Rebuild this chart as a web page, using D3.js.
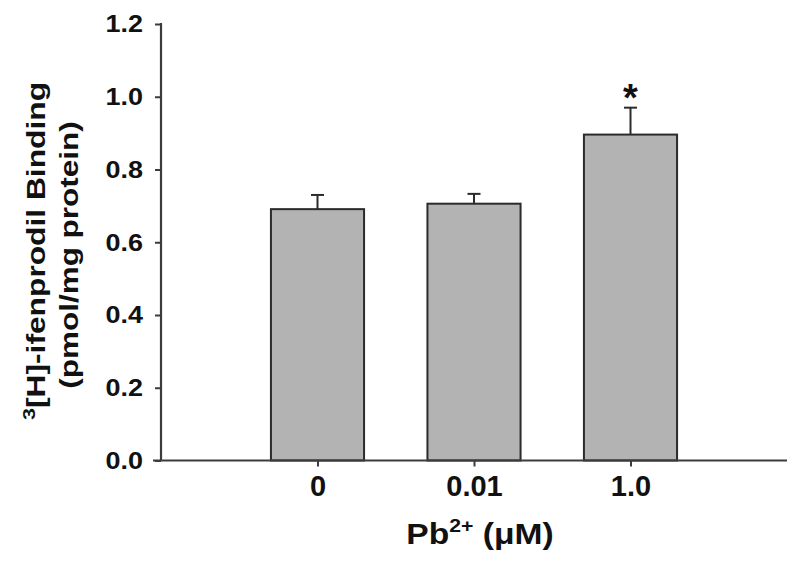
<!DOCTYPE html>
<html>
<head>
<meta charset="utf-8">
<script src="https://cdn.jsdelivr.net/npm/d3@7"></script>
<style>
  body { margin: 0; background: #fff; }
  text { font-family: "Liberation Sans", Arial, Helvetica, sans-serif; font-weight: bold; fill: #111; }
</style>
</head>
<body>
<div id="chart-area"></div>
<script>
// data
var categories = ["0", "0.01", "1.0"];
var means = [0.691, 0.706, 0.896];
var sems = [0.039, 0.027, 0.074];
var stars = ["", "", "*"];
var yTicks = [0.0, 0.2, 0.4, 0.6, 0.8, 1.0, 1.2];

var W = 800, H = 563;
var axisColor = "#3c3c3c";

var svg = d3.select("#chart-area").append("svg")
    .attr("width", W)
    .attr("height", H);

// scales: bars sit at slots 1..3 of a 0..4 axis
var x = d3.scaleLinear().domain([0, categories.length + 1]).range([161, 787]);
var y = d3.scaleLinear().domain([0, 1.2]).range([460.5, 24]);
var barW = (x(1) - x(0)) * 0.595;

// bars
svg.selectAll(".bar")
    .data(means)
    .enter().append("rect")
    .attr("class", "bar")
    .attr("x", function (d, i) { return x(i + 1) - barW / 2; })
    .attr("y", function (d) { return y(d); })
    .attr("width", barW)
    .attr("height", function (d) { return y(0) - y(d); })
    .style("fill", "#b3b3b3")
    .style("stroke", "#2b2b2b")
    .style("stroke-width", 2);

// upper error bars
var err = svg.selectAll(".err")
    .data(means)
    .enter().append("g")
    .attr("class", "err");

err.append("line")
    .attr("x1", function (d, i) { return x(i + 1); })
    .attr("x2", function (d, i) { return x(i + 1); })
    .attr("y1", function (d) { return y(d); })
    .attr("y2", function (d, i) { return y(d + sems[i]); })
    .style("stroke", "#2b2b2b")
    .style("stroke-width", 2);

err.append("line")
    .attr("x1", function (d, i) { return x(i + 1) - 6.5; })
    .attr("x2", function (d, i) { return x(i + 1) + 6.5; })
    .attr("y1", function (d, i) { return y(d + sems[i]); })
    .attr("y2", function (d, i) { return y(d + sems[i]); })
    .style("stroke", "#2b2b2b")
    .style("stroke-width", 2);

// significance star
svg.selectAll(".star")
    .data(means)
    .enter().append("text")
    .attr("class", "star")
    .attr("x", function (d, i) { return x(i + 1); })
    .attr("y", function (d, i) { return y(d + sems[i]) + 3; })
    .attr("text-anchor", "middle")
    .style("font-size", "38px")
    .text(function (d, i) { return stars[i]; });

// y axis
var yAxis = d3.axisLeft(y)
    .tickValues(yTicks)
    .tickFormat(d3.format(".1f"))
    .tickSize(6)
    .tickSizeOuter(0);

var gy = svg.append("g")
    .attr("class", "y axis")
    .attr("transform", "translate(" + x(0) + ",0)")
    .call(yAxis);

gy.select(".domain").remove();
gy.selectAll(".tick line").style("stroke", axisColor).style("stroke-width", 2);
gy.selectAll(".tick text")
    .attr("x", 0)
    .attr("transform", "translate(-18,0) scale(1.1,1)")
    .style("font-size", "24.5px")
    .style("fill", "#111");

// x axis
var xAxis = d3.axisBottom(x)
    .tickValues(d3.range(1, categories.length + 1))
    .tickFormat(function (d) { return categories[d - 1]; })
    .tickSize(6)
    .tickSizeOuter(0)
    .tickPadding(9);

var gx = svg.append("g")
    .attr("class", "x axis")
    .attr("transform", "translate(0," + y(0) + ")")
    .call(xAxis);

gx.select(".domain").remove();
gx.selectAll(".tick line").style("stroke", axisColor).style("stroke-width", 2);
gx.selectAll(".tick text")
    .style("font-size", "29px")
    .style("fill", "#111");

// axis lines
svg.append("line")
    .attr("x1", x(0)).attr("x2", x(0))
    .attr("y1", y(1.2) - 1).attr("y2", y(0))
    .style("stroke", axisColor).style("stroke-width", 2.2);

svg.append("line")
    .attr("x1", x(0) - 8).attr("x2", x(categories.length + 1))
    .attr("y1", y(0)).attr("y2", y(0))
    .style("stroke", axisColor).style("stroke-width", 2.2);

// y label, two lines
var yl1 = svg.append("text")
    .attr("text-anchor", "middle")
    .attr("transform", "translate(45,251) rotate(-90) scale(1.27,1)")
    .style("font-size", "25px");
yl1.append("tspan").text("3").style("font-size", "17px").attr("dy", -10);
yl1.append("tspan").text("[H]-ifenprodil Binding").attr("dy", 10);

svg.append("text")
    .attr("text-anchor", "middle")
    .attr("transform", "translate(78,255) rotate(-90) scale(1.26,1)")
    .style("font-size", "25px")
    .text("(pmol/mg protein)");

// x label
var xl = svg.append("text")
    .attr("text-anchor", "middle")
    .attr("transform", "translate(480,544) scale(1.12,1)")
    .style("font-size", "30px");
xl.append("tspan").text("Pb");
xl.append("tspan").text("2+").style("font-size", "19px").attr("dy", -12);
xl.append("tspan").text(" (\u03bcM)").attr("dy", 12);
</script>
</body>
</html>
